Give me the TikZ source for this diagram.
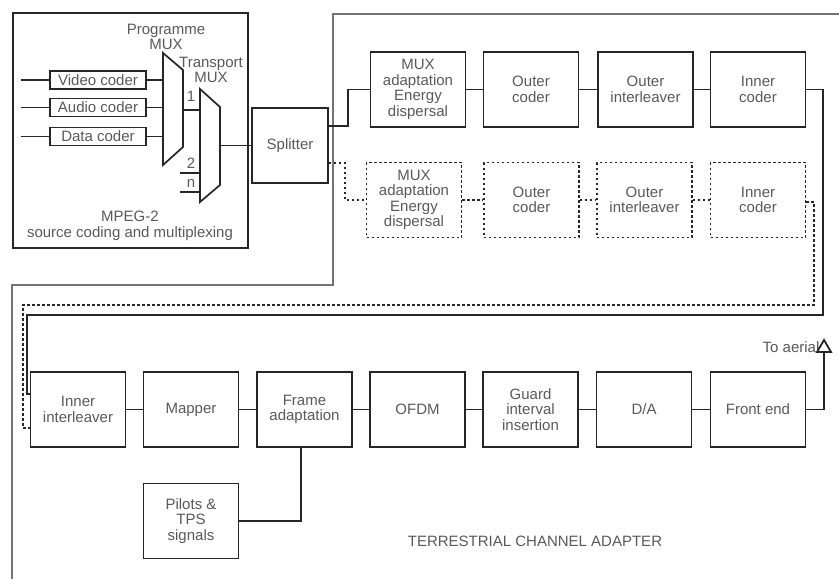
\documentclass[tikz,border=0pt]{standalone}
\usepackage{fontspec}
\setmainfont{Liberation Sans}
\usetikzlibrary{arrows.meta}
\begin{document}
\begin{tikzpicture}[x=1pt,y=-1pt,line width=1.2pt,
  blk/.style={draw=black!85,line width=1.7pt,minimum width=95pt,minimum height=75pt,inner sep=1pt,align=center,text=black!65,font=\fontsize{15}{15.5}\selectfont},
  dblk/.style={blk,dash pattern=on 2.2pt off 2.8pt,line width=1.9pt},
  cdr/.style={blk,minimum width=96pt,minimum height=18pt},
  wire/.style={draw=black!85,line width=1.3pt},
  dwire/.style={wire,dash pattern=on 2.2pt off 2.8pt,line width=1.9pt},
  encl/.style={draw=black!55,line width=1.6pt},
  lbl/.style={inner sep=0pt,align=center,text=black!65,font=\fontsize{15}{15.5}\selectfont}]
\path[use as bounding box] (0,0) rectangle (839,579);
\draw[encl] (839,14) -- (333,14) -- (333,285) -- (12,285) -- (12,579);
\draw[draw=black!85,line width=1.7pt] (13,13) rectangle (248,248);
\node[lbl] (mpegl) at (130,226) {MPEG-2\\source coding and multiplexing};
\node[lbl] (pmuxl) at (166,37) {Programme\\MUX};
\node[lbl] (tmuxl) at (211,70) {Transport\\MUX};
\node[cdr] (vcod) at (98,80) {Video coder};
\node[cdr] (acod) at (98,107.5) {Audio coder};
\node[cdr] (dcod) at (98,136.5) {Data coder};
\coordinate (vin) at (21,80);
\coordinate (ain) at (21,107.5);
\coordinate (din) at (21,136.5);
\draw[wire] (vin) -- (vcod.west);
\draw[wire] (ain) -- (acod.west);
\draw[wire] (din) -- (dcod.west);
\draw[blk] (163,53) -- (183,70) -- (183,147) -- (163,165) -- cycle;
\draw[blk] (200,89) -- (220,107) -- (220,185) -- (200,202) -- cycle;
\coordinate (pmuxin) at (163,0);
\coordinate (pmuxout) at (183,110);
\coordinate (tmuxin) at (200,0);
\coordinate (tmuxout) at (220,145.5);
\coordinate (in2) at (180,173);
\coordinate (inn) at (180,192);
\draw[wire] (vcod.east) -- (pmuxin |- vcod.east);
\draw[wire] (acod.east) -- (pmuxin |- acod.east);
\draw[wire] (dcod.east) -- (pmuxin |- dcod.east);
\draw[wire] (pmuxout) -- (tmuxin |- pmuxout);
\draw[wire] (in2) -- (tmuxin |- in2);
\draw[wire] (inn) -- (tmuxin |- inn);
\node[lbl] (p1) at (191,96) {1};
\node[lbl] (p2) at (191,163) {2};
\node[lbl] (pn) at (191,183) {n};
\node[blk,minimum width=76pt] (split) at (290,145.5) {Splitter};
\draw[wire] (tmuxout) -- (split.west);
\node[blk] (muxa) at (418,89.5) {MUX\\adaptation\\Energy\\dispersal};
\node[blk] (outc) at (531,89.5) {Outer\\coder};
\node[blk] (outi) at (645.5,89.5) {Outer\\interleaver};
\node[blk] (innc) at (758,89.5) {Inner\\coder};
\node[dblk] (dmuxa) at (414,200) {MUX\\adaptation\\Energy\\dispersal};
\node[dblk] (doutc) at (531.5,200) {Outer\\coder};
\node[dblk] (douti) at (644.5,200) {Outer\\interleaver};
\node[dblk] (dinnc) at (758,200) {Inner\\coder};
\draw[wire] (split.east |- 0,126) -- (348,126) |- (muxa.west);
\draw[wire] (muxa) -- (outc);
\draw[wire] (outc) -- (outi);
\draw[wire] (outi) -- (innc);
\draw[dwire] (split.east |- 0,163) -- (345,163) |- (dmuxa.west);
\draw[dwire] (dmuxa) -- (doutc);
\draw[dwire] (doutc) -- (douti);
\draw[dwire] (douti) -- (dinnc);
\node[blk] (inni) at (78,409.5) {Inner\\interleaver};
\node[blk] (map) at (191,409.5) {Mapper};
\node[blk] (fra) at (304.5,409.5) {Frame\\adaptation};
\node[blk] (ofdm) at (417.5,409.5) {OFDM};
\node[blk] (guard) at (530.5,409.5) {Guard\\interval\\insertion};
\node[blk] (da) at (644,409.5) {D/A};
\node[blk] (fe) at (758,409.5) {Front end};
\node[blk] (pil) at (191,521) {Pilots \&\\TPS\\signals};
\draw[wire] (innc.east) -- (823,89.5) |- (27,315) |- (inni.west |- 0,394);
\draw[dwire] (dinnc.east |- 0,202) -- (814,202) |- (23,305) |- (inni.west |- 0,428);
\draw[wire] (inni) -- (map);
\draw[wire] (map) -- (fra);
\draw[wire] (fra) -- (ofdm);
\draw[wire] (ofdm) -- (guard);
\draw[wire] (guard) -- (da);
\draw[wire] (da) -- (fe);
\draw[wire] (fra.south -| 301,0) |- (pil.east);
\node[lbl,anchor=east] (aerl) at (820,347) {To aerial};
\coordinate (aer) at (824,352);
\draw[wire] (fe.east) -| (aer);
\draw[wire,fill=white,line width=1.8pt] (aer) -- ++(-7,0) -- ++(7,-12) -- ++(7,12) -- cycle;
\node[lbl] (tca) at (535,541) {TERRESTRIAL CHANNEL ADAPTER};
\end{tikzpicture}
\end{document}
